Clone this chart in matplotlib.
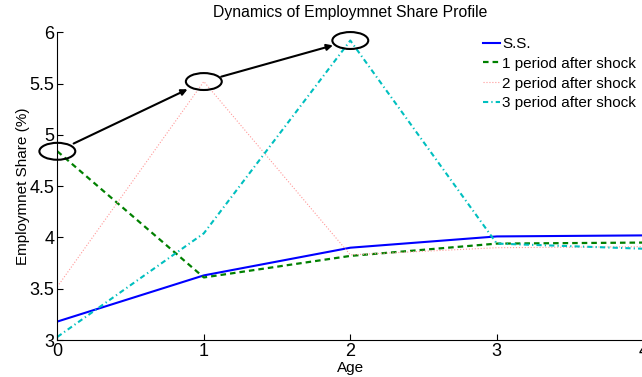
import numpy as np
import matplotlib
matplotlib.use('Agg')
import matplotlib.pyplot as plt
from matplotlib.patches import Ellipse

plt.rcParams['font.family'] = ['Liberation Sans', 'DejaVu Sans']

age = [0, 1, 2, 3, 4]
ss = [3.18, 3.63, 3.90, 4.01, 4.02]
shock1 = [4.84, 3.61, 3.82, 3.94, 3.95]
shock2 = [3.52, 5.52, 3.83, 3.90, 3.91]
shock3 = [3.03, 4.04, 5.92, 3.94, 3.89]

fig = plt.figure(figsize=(6.42, 3.77), dpi=100)
ax = fig.add_axes([0.0893, 0.0981, 0.9127, 0.8162])

ax.plot(age, ss, color='b', lw=1.5, label='S.S.')
ax.plot(age, shock1, color=(0, 0.5, 0), lw=1.6, dashes=(2.5, 1.8), label='1 period after shock')
ax.plot(age, shock2, color=(1, 0.6, 0.6), lw=0.8, ls=':', label='2 period after shock')
ax.plot(age, shock3, color=(0, 0.75, 0.75), lw=1.5, dashes=(2.5, 1.5, 0.6, 1.5), label='3 period after shock')

# circles around the peak of each shock, with arrows between them
peaks = [(age[0], shock1[0]), (age[1], shock2[1]), (age[2], shock3[2])]
for cx, cy in peaks:
    ax.add_patch(Ellipse((cx, cy), 0.245, 0.165, fill=False, ec='k', lw=1.5, clip_on=False, zorder=5))
for (x0, y0), (x1, y1) in zip(peaks[:-1], peaks[1:]):
    ax.annotate('', xy=(x1, y1), xytext=(x0, y0),
                arrowprops=dict(arrowstyle='-|>', color='k', lw=1.5,
                                shrinkA=13, shrinkB=13, mutation_scale=9))

ax.set_xlim(0, 4)
ax.set_ylim(3, 6)
ax.set_xticks(age)
ax.set_yticks(np.arange(3, 6.01, 0.5))
ax.set_yticklabels(['3', '3.5', '4', '4.5', '5', '5.5', '6'])
ax.tick_params(direction='in', length=4, width=0.8, labelsize=13, pad=2)
ax.spines['top'].set_visible(False)
ax.spines['right'].set_visible(False)

ax.set_title('Dynamics of Employmnet Share Profile', fontsize=11.3, pad=11)
ax.set_xlabel('Age', fontsize=11, labelpad=1)
ax.set_ylabel('Employmnet Share (%)', fontsize=11, labelpad=0)

ax.legend(loc='upper left', bbox_to_anchor=(483 / 642, 1 - 37 / 377),
          bbox_transform=fig.transFigure, frameon=False, fontsize=11,
          borderpad=0, borderaxespad=0, handlelength=1.1, handletextpad=0.15,
          labelspacing=0.38)

fig.savefig('out.png', dpi=100)
